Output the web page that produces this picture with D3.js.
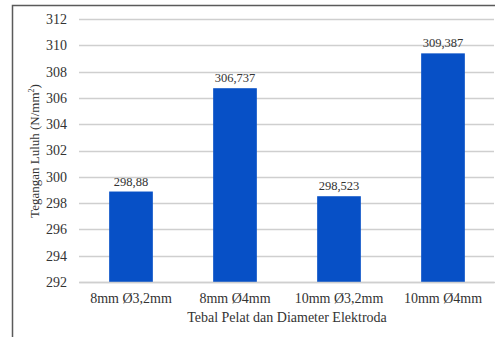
<!DOCTYPE html>
<html>
<head>
<meta charset="utf-8">
<script src="https://cdn.jsdelivr.net/npm/d3@7"></script>
<style>
  body { margin: 0; background: #fff; }
  svg text { font-family: 'Liberation Serif', 'Times New Roman', Times, serif !important; }
</style>
</head>
<body>
<div class="chart-container"></div>
<script>
const categories = ['8mm Ø3,2mm', '8mm Ø4mm', '10mm Ø3,2mm', '10mm Ø4mm'];
const values = [298.88, 306.737, 298.523, 309.387];
const valueLabels = ['298,88', '306,737', '298,523', '309,387'];
const yTicks = [292, 294, 296, 298, 300, 302, 304, 306, 308, 310, 312];

const width = 495, height = 337;
const margin = { top: 19, right: 0, bottom: 55, left: 79 };

const svg = d3.select('.chart-container')
    .append('svg')
    .attr('width', width)
    .attr('height', height);

// outer frame
svg.append('rect')
    .attr('x', 12.5)
    .attr('y', 5.5)
    .attr('width', 500)
    .attr('height', 350)
    .attr('fill', 'none')
    .attr('stroke', '#5a5a5a')
    .attr('stroke-width', 1.5);

const x = d3.scaleBand()
    .domain(categories)
    .range([margin.left, 495])
    .paddingInner(0.58)
    .paddingOuter(0.29);

const y = d3.scaleLinear()
    .domain([292, 312])
    .range([height - margin.bottom, margin.top]);

// gridlines
svg.append('g')
    .selectAll('line')
    .data(yTicks)
    .enter()
    .append('line')
    .attr('x1', margin.left)
    .attr('x2', 494)
    .attr('y1', d => Math.round(y(d)) + 0.5)
    .attr('y2', d => Math.round(y(d)) + 0.5)
    .attr('stroke', '#cfcfcf')
    .attr('stroke-width', 1.5);

// y axis labels
const yAxis = svg.append('g')
    .attr('transform', `translate(${margin.left},0)`)
    .call(d3.axisLeft(y).tickValues(yTicks).tickSize(0).tickPadding(12));
yAxis.select('.domain').remove();
yAxis.selectAll('text')
    .attr('font-size', 14)
    .attr('fill', '#333');

// bars
svg.selectAll('rect.bar')
    .data(values)
    .enter()
    .append('rect')
    .attr('class', 'bar')
    .attr('x', (d, i) => x(categories[i]))
    .attr('width', x.bandwidth())
    .attr('y', d => y(d))
    .attr('height', d => y(292) - y(d))
    .attr('fill', '#0750c6');

// value labels
svg.selectAll('text.val')
    .data(values)
    .enter()
    .append('text')
    .attr('class', 'val')
    .attr('x', (d, i) => x(categories[i]) + x.bandwidth() / 2)
    .attr('y', d => y(d) - 6)
    .attr('text-anchor', 'middle')
    .attr('font-size', 12.5)
    .attr('fill', '#333')
    .text((d, i) => valueLabels[i]);

// x axis
const xAxis = svg.append('g')
    .attr('transform', `translate(0,${height - margin.bottom})`)
    .call(d3.axisBottom(x).tickSize(0).tickPadding(11));
xAxis.select('.domain')
    .attr('stroke', '#cfcfcf')
    .attr('stroke-width', 1.5);
xAxis.selectAll('text')
    .attr('font-size', 14)
    .attr('fill', '#333');

// axis titles
svg.append('text')
    .attr('x', 287)
    .attr('y', 322)
    .attr('text-anchor', 'middle')
    .attr('font-size', 14)
    .attr('fill', '#333')
    .text('Tebal Pelat dan Diameter Elektroda');

const yTitle = svg.append('text')
    .attr('transform', 'translate(39,151) rotate(-90)')
    .attr('text-anchor', 'middle')
    .attr('font-size', 13)
    .attr('fill', '#333');
yTitle.append('tspan').text('Tegangan Luluh (N/mm');
yTitle.append('tspan').attr('font-size', 8).attr('dy', -5).text('2');
yTitle.append('tspan').attr('dy', 5).text(')');
</script>
</body>
</html>
